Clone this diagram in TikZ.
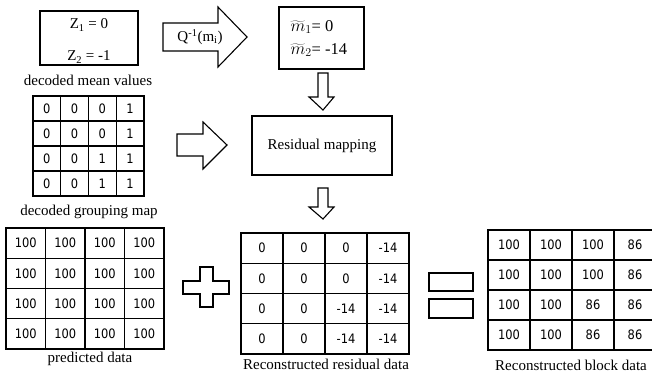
\documentclass[tikz,border=0pt]{standalone}
\usepackage{fontspec}
\setmainfont{Liberation Serif}
\newfontfamily\cellfont{DejaVu Sans}[FakeStretch=0.88]
\begin{document}
\begin{tikzpicture}[x=1pt, y=-1pt, line width=1.1pt,
  every node/.style={font=\fontsize{15}{18}\selectfont, inner sep=0pt}]
\useasboundingbox (0,0) rectangle (652,373);

\tikzset{BoxStyle/.style = {draw, line width=1.1pt} }
\tikzset{CellStyle/.style = {draw, line width=1.1pt, font=\cellfont\fontsize{13}{15}\selectfont} }
\tikzset{ArrowStyle/.style = {draw, line width=1.1pt, line join=miter} }

% mean values
\node[BoxStyle, minimum width=98, minimum height=54] (Zbox) at (89,38) {};
\node (Z1) at (89,25) {Z\textsubscript{1} = 0};
\node (Z2) at (89,57) {Z\textsubscript{2} = -1};
\node (Zcap) at (88,80) {decoded mean values};

% inverse quantisation
\draw[ArrowStyle] (163,23) -- (218,23) -- (218,7) -- (247,37) -- (218,67) -- (218,51) -- (163,51) -- cycle;
\node (Q) at (200,37) {Q\textsuperscript{-1}(m\textsubscript{i})};

\node[BoxStyle, minimum width=85, minimum height=62] (Mbox) at (321.5,38) {};
\node[anchor=west, font=\fontsize{16.5}{18}\selectfont] (M1) at (290,27) {$\widetilde{m}_1$= 0};
\node[anchor=west, font=\fontsize{16.5}{18}\selectfont] (M2) at (290,50) {$\widetilde{m}_2$= -14};

\draw[ArrowStyle] (318,73) -- (328,73) -- (328,97) -- (334,97) -- (323,110) -- (309,97) -- (318,97) -- cycle;

% grouping map
\foreach \row [count=\r] in {{0,0,0,1},{0,0,0,1},{0,0,1,1},{0,0,1,1}}
  \foreach \v [count=\c] in \row
    \node[CellStyle, minimum width=27.75, minimum height=25] (G-\r-\c)
      at ({33+27.75*(\c-0.5)}, {96+25*(\r-0.5)}) {\v};
\node (Gcap) at (89,212) {decoded grouping map};

\draw[ArrowStyle] (177,134) -- (203,134) -- (203,122) -- (227,145) -- (203,169) -- (203,156) -- (177,156) -- cycle;

\node[BoxStyle, minimum width=140, minimum height=59] (Rmap) at (322,145.5) {Residual mapping};

\draw[ArrowStyle] (318,188) -- (328,188) -- (328,207) -- (334,207) -- (323,219) -- (309,207) -- (318,207) -- cycle;

% predicted data
\foreach \r in {1,...,4}
  \foreach \c in {1,...,4}
    \node[CellStyle, minimum width=39.5, minimum height=30.25] (P-\r-\c)
      at ({6+39.5*(\c-0.5)}, {228+30.25*(\r-0.5)}) {100};
\node (Pcap) at (90,359) {predicted data};

% plus
\draw[ArrowStyle] (200,267) -- (213,267) -- (213,281) -- (229,281) -- (229,294) -- (213,294)
  -- (213,307) -- (200,307) -- (200,294) -- (183,294) -- (183,281) -- (200,281) -- cycle;

% residual data
\foreach \row [count=\r] in {{0,0,0,-14},{0,0,0,-14},{0,0,-14,-14},{0,0,-14,-14}}
  \foreach \v [count=\c] in \row
    \node[CellStyle, minimum width=42, minimum height=30.25] (R-\r-\c)
      at ({241+42*(\c-0.5)}, {233+30.25*(\r-0.5)}) {\v};
\node (Rcap) at (326,364) {Reconstructed residual data};

% equals
\node[BoxStyle, minimum width=44, minimum height=18] (Eq1) at (451,282) {};
\node[BoxStyle, minimum width=44, minimum height=19] (Eq2) at (451,308.5) {};

% block data
\foreach \row [count=\r] in {{100,100,100,86},{100,100,100,86},{100,100,86,86},{100,100,86,86}}
  \foreach \v [count=\c] in \row
    \node[CellStyle, minimum width=42, minimum height=30] (B-\r-\c)
      at ({488+42*(\c-0.5)}, {230+30*(\r-0.5)}) {\v};
\node (Bcap) at (571,365) {Reconstructed block data};

\end{tikzpicture}
\end{document}
